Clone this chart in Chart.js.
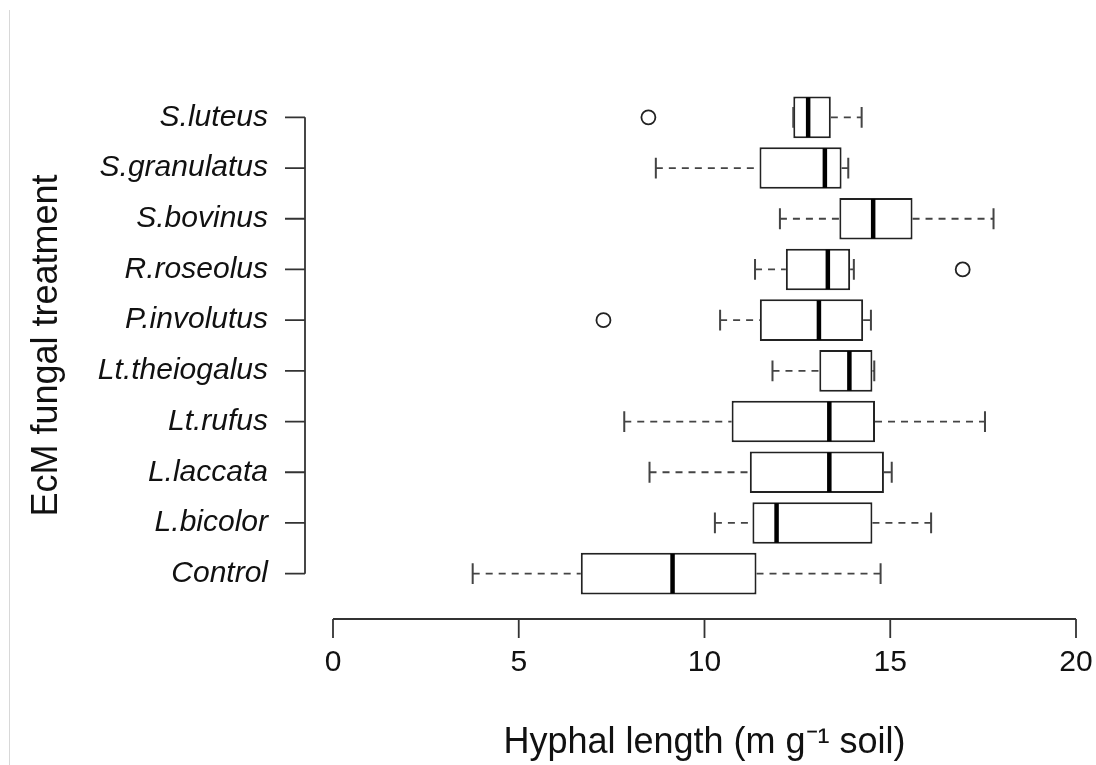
<!DOCTYPE html>
<html>
<head>
<meta charset="utf-8">
<script src="https://cdn.jsdelivr.net/npm/chart.js@4/dist/chart.umd.min.js"></script>
<style>
  html, body { margin: 0; padding: 0; background: #fff; }
  #wrap { position: relative; width: 1096px; height: 765px; }
  #edge { position: absolute; left: 9px; top: 10px; bottom: 0; border-left: 1px solid #d8d8d8; }
</style>
</head>
<body>
<div id="wrap">
  <div id="edge"></div>
  <canvas id="chart"></canvas>
</div>
<script>
// box statistics per treatment (m g-1 soil)
const treatments  = ['S.luteus', 'S.granulatus', 'S.bovinus', 'R.roseolus', 'P.involutus',
                     'Lt.theiogalus', 'Lt.rufus', 'L.laccata', 'L.bicolor', 'Control'];
const whiskerLow  = [12.39, 8.69, 12.03, 11.36, 10.42, 11.83, 7.84, 8.52, 10.28, 3.76];
const q1          = [12.39, 11.48, 13.63, 12.19, 11.49, 13.09, 10.73, 11.22, 11.29, 6.67];
const medians     = [12.79, 13.24, 14.54, 13.32, 13.08, 13.90, 13.36, 13.36, 11.94, 9.14];
const q3          = [13.40, 13.69, 15.60, 13.92, 14.27, 14.52, 14.59, 14.83, 14.52, 11.40];
const whiskerHigh = [14.23, 13.87, 17.78, 14.02, 14.48, 14.57, 17.55, 15.04, 16.10, 14.74];
const outliers    = [[8.49], [], [], [16.95], [7.28], [], [], [], [], []];
const xTicks      = [0, 5, 10, 15, 20];

const INK = '#222';

// whiskers, medians, outliers and the detached R-style axes
const boxplotExtras = {
  id: 'boxplotExtras',
  afterDatasetsDraw(chart) {
    const { ctx, scales: { x, y }, chartArea } = chart;
    const bars = chart.getDatasetMeta(0).data;
    ctx.save();
    ctx.strokeStyle = INK;

    treatments.forEach((_, i) => {
      const cy = y.getPixelForValue(i);
      const half = bars[i].height / 2;
      const cap = half / 2;

      // dashed whiskers
      ctx.lineWidth = 1.8;
      ctx.setLineDash([7, 6]);
      ctx.strokeStyle = '#444';
      ctx.beginPath();
      ctx.moveTo(x.getPixelForValue(whiskerLow[i]), cy);
      ctx.lineTo(x.getPixelForValue(q1[i]), cy);
      ctx.moveTo(x.getPixelForValue(q3[i]), cy);
      ctx.lineTo(x.getPixelForValue(whiskerHigh[i]), cy);
      ctx.stroke();
      ctx.setLineDash([]);

      // staples
      ctx.lineWidth = 2;
      ctx.beginPath();
      [whiskerLow[i], whiskerHigh[i]].forEach(v => {
        const px = x.getPixelForValue(v);
        ctx.moveTo(px, cy - cap);
        ctx.lineTo(px, cy + cap);
      });
      ctx.stroke();

      // median
      ctx.strokeStyle = '#000';
      ctx.lineWidth = 4.5;
      ctx.beginPath();
      const mx = x.getPixelForValue(medians[i]);
      ctx.moveTo(mx, cy - half + 1);
      ctx.lineTo(mx, cy + half - 1);
      ctx.stroke();

      // outliers
      ctx.strokeStyle = INK;
      ctx.lineWidth = 1.8;
      outliers[i].forEach(v => {
        ctx.beginPath();
        ctx.arc(x.getPixelForValue(v), cy, 7, 0, Math.PI * 2);
        ctx.stroke();
      });
    });

    // x axis, set below the plot
    const axY = chartArea.bottom + 20;
    ctx.strokeStyle = '#333';
    ctx.lineWidth = 1.8;
    ctx.beginPath();
    ctx.moveTo(x.getPixelForValue(xTicks[0]), axY);
    ctx.lineTo(x.getPixelForValue(xTicks[xTicks.length - 1]), axY);
    xTicks.forEach(t => {
      const px = x.getPixelForValue(t);
      ctx.moveTo(px, axY);
      ctx.lineTo(px, axY + 19);
    });
    // y axis, set left of the plot
    const axX = chartArea.left - 28;
    ctx.moveTo(axX, y.getPixelForValue(0));
    ctx.lineTo(axX, y.getPixelForValue(treatments.length - 1));
    treatments.forEach((_, i) => {
      const py = y.getPixelForValue(i);
      ctx.moveTo(axX, py);
      ctx.lineTo(axX - 20, py);
    });
    ctx.stroke();
    ctx.restore();
  },
};

new Chart(document.getElementById('chart'), {
  type: 'bar',
  data: {
    labels: treatments,
    datasets: [{
      data: treatments.map((_, i) => [q1[i], q3[i]]),
      backgroundColor: '#fff',
      borderColor:     INK,
      borderWidth:     2,
      borderSkipped:   false,
      categoryPercentage: 1,
      barPercentage:   0.82,
    }],
  },
  options: {
    indexAxis: 'y',
    responsive: true,
    maintainAspectRatio: false,
    animation: false,
    layout: { padding: { top: 92, right: 20, bottom: 0, left: 0 } },
    plugins: {
      legend:  { display: false },
      tooltip: { enabled: false },
    },
    scales: {
      x: {
        type: 'linear',
        min: 0,
        max: 20,
        afterFit: s => { s.height = 166; s.paddingLeft = 0; s.paddingRight = 0; },
        afterBuildTicks: s => { s.ticks = xTicks.map(v => ({ value: v })); },
        grid:   { display: false, drawTicks: false },
        border: { display: false },
        ticks:  { color: '#111', padding: 46, font: { family: 'Liberation Sans', size: 30 } },
        title: {
          display: true,
          text: 'Hyphal length (m g\u207B\u00B9 soil)',
          color: '#111',
          padding: { top: 0, bottom: 4 },
          font: { family: 'Liberation Sans', size: 36, lineHeight: 1 },
        },
      },
      y: {
        afterFit: s => { s.width = 333; s.paddingTop = 0; s.paddingBottom = 0; },
        grid:   { display: false, drawTicks: false },
        border: { display: false },
        ticks:  { color: '#111', padding: 65, font: { family: 'Liberation Sans', size: 30, style: 'italic' } },
        title: {
          display: true,
          text: 'EcM fungal treatment',
          color: '#111',
          padding: { top: 29, bottom: 0 },
          font: { family: 'Liberation Sans', size: 36, lineHeight: 1 },
        },
      },
    },
  },
  plugins: [boxplotExtras],
});
</script>
</body>
</html>
